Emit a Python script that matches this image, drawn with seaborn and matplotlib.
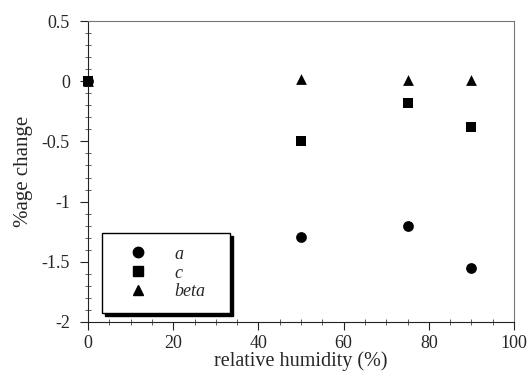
import matplotlib
matplotlib.use("Agg")
import matplotlib.pyplot as plt
import seaborn as sns
import pandas as pd
from matplotlib.ticker import MultipleLocator, FuncFormatter
from matplotlib.lines import Line2D

humidity = [0, 50, 75, 90]
a_vals = [0.0, -1.29, -1.20, -1.55]
c_vals = [0.0, -0.50, -0.18, -0.38]
beta_vals = [0.0, 0.02, 0.01, 0.01]
series_names = ["a", "c", "beta"]

rows = []
for name, vals in zip(series_names, [a_vals, c_vals, beta_vals]):
    for x, y in zip(humidity, vals):
        rows.append({"humidity": x, "change": y, "series": name})
df = pd.DataFrame(rows)

sns.set_style("white")
plt.rcParams['font.family'] = ['Liberation Serif', 'DejaVu Serif']

fig = plt.figure(figsize=(5.30, 3.73), dpi=100)
ax = fig.add_axes([88/530, 1 - 322/373, (514-88)/530, (322-21)/373])

markers = {"a": "o", "c": "s", "beta": "^"}
order = ["a", "beta", "c"]
for name in order:
    sub = df[df["series"] == name]
    sns.scatterplot(data=sub, x="humidity", y="change", marker=markers[name],
                    color="black", s=60, edgecolor="black",
                    linewidth=0, ax=ax, zorder=3 if name == "c" else 2,
                    legend=False, clip_on=False)

ax.set_xlim(0, 100)
ax.set_ylim(-2, 0.5)
ax.xaxis.set_major_locator(MultipleLocator(20))
ax.xaxis.set_minor_locator(MultipleLocator(5))
ax.yaxis.set_major_locator(MultipleLocator(0.5))
ax.yaxis.set_minor_locator(MultipleLocator(0.1))
ax.yaxis.set_major_formatter(FuncFormatter(lambda v, p: f"{v:g}"))
ax.tick_params(which="both", bottom=True, left=True, top=False, right=False)
ax.tick_params(which="major", direction="out", length=6, width=0.8,
               labelsize=13, color="#222222")
ax.tick_params(axis="y", which="major", pad=7)
ax.tick_params(axis="x", which="major", pad=3)
ax.tick_params(which="minor", direction="inout", length=4, width=0.6, color="#444444")
for side, s in ax.spines.items():
    s.set_linewidth(0.8)
    s.set_color("#222222" if side in ("left", "bottom") else "#777777")

ax.set_xlabel("relative humidity (%)", fontsize=14.5, labelpad=0)
ax.set_ylabel("%age change", fontsize=15, labelpad=6)

handles = [Line2D([], [], marker=markers[n], color="black", linestyle="none",
                  markersize=7.5) for n in series_names]
leg = ax.legend(handles, series_names, loc="lower left",
                bbox_to_anchor=(0.033, 0.03, (230 - 102) / 426, 0.25), mode="expand",
                frameon=True, fancybox=False, shadow={"color": "black", "alpha": 1},
                edgecolor="black", prop={"style": "italic", "size": 13},
                handletextpad=0.7, borderpad=0.7, labelspacing=0.1, handlelength=2.6,
                borderaxespad=0)
leg.get_frame().set_linewidth(1.0)

fig.savefig("out.png", dpi=100)
